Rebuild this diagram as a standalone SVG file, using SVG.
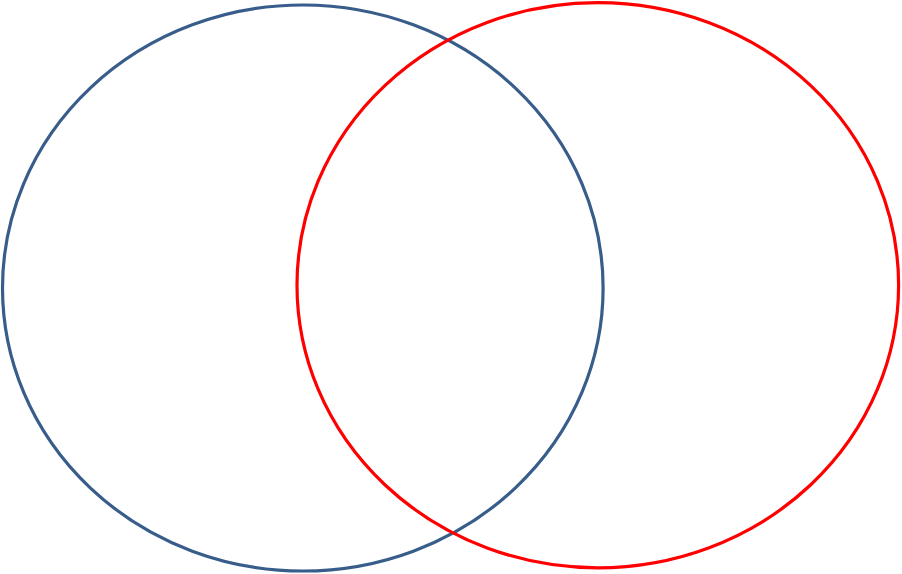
<svg xmlns="http://www.w3.org/2000/svg" width="902" height="574" viewBox="0 0 902 574">
<style>
.c{fill:none;stroke-width:3.2}
</style>
<rect width="902" height="574" fill="#ffffff"/>
<g id="circle-blue"><ellipse class="c" cx="302.8" cy="288" rx="300.3" ry="283" stroke="#385D8A"/></g>
<g id="circle-red"><ellipse class="c" cx="597.8" cy="285.2" rx="300.8" ry="282.6" stroke="#FF0000" stroke-width="3.7"/></g>
</svg>
